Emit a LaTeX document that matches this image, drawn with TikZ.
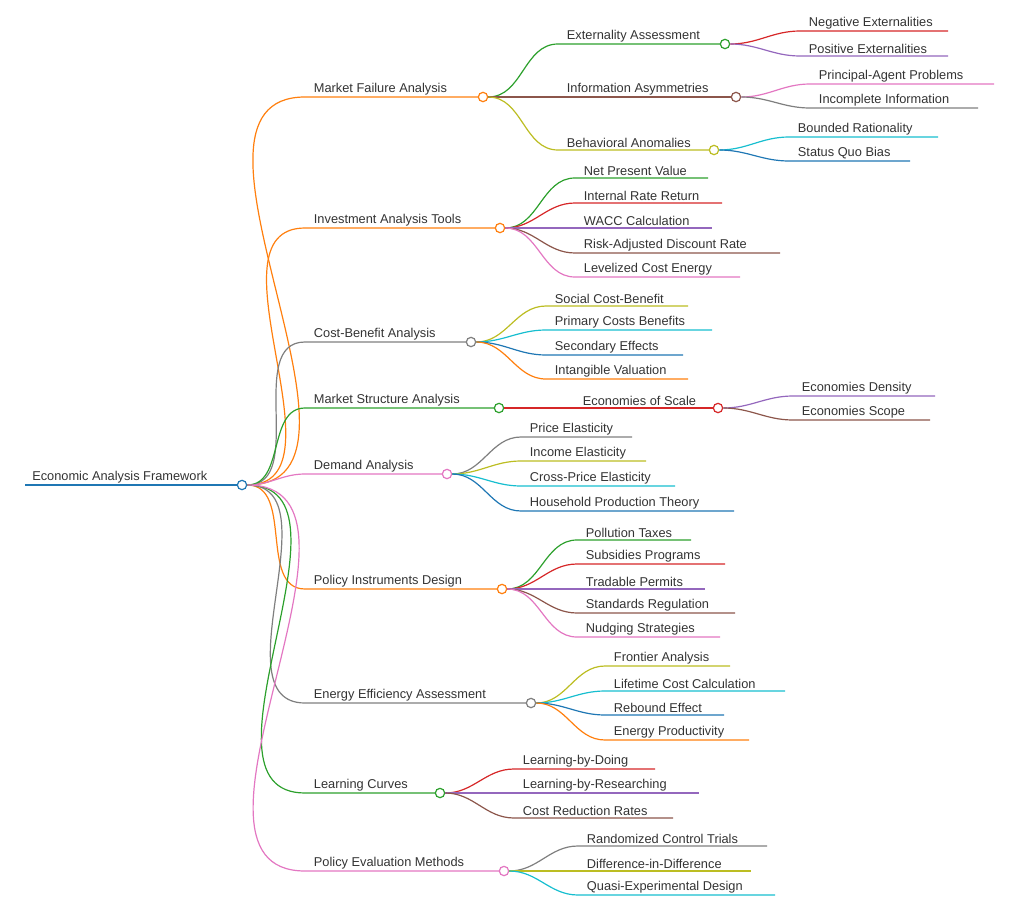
\documentclass[tikz,border=0pt]{standalone}
\usepackage{fontspec}
\setmainfont{Liberation Sans}
\usetikzlibrary{positioning}
\definecolor{corange}{HTML}{FF7F0E}
\definecolor{cgreen}{HTML}{2CA02C}
\definecolor{cred}{HTML}{D62728}
\definecolor{cpurple}{HTML}{9467BD}
\definecolor{cbrown}{HTML}{8C564B}
\definecolor{cpink}{HTML}{E377C2}
\definecolor{cgray}{HTML}{7F7F7F}
\definecolor{colive}{HTML}{BCBD22}
\definecolor{ccyan}{HTML}{17BECF}
\definecolor{cblue}{HTML}{1F77B4}
\tikzset{
    link/.style={line width=0.9pt},
    dot/.style={
    circle,draw=#1,fill=white,line width=0.9pt,inner sep=0pt,minimum size=7pt
    },
    lbl/.style={
    inner sep=1.5pt,font=\fontsize{9.6}{11}\selectfont,text=black!80
    },
}
% #1 name, #2 parent, #3 x start, #4 x end, #5 y, #6 colour, #7 text
\newcommand{\leaf}[7]{%
  \coordinate (#1s) at (#3,#5);
  \coordinate (#1e) at (#4,#5);
  \draw[link,#6] (#2.east) to[out=0,in=180] (#1s) -- (#1e);
  \node[lbl,anchor=south west] (#1t) at ([xshift=5]#1s) {#7};
}
\newcommand{\branch}[7]{%
  \leaf{#1}{#2}{#3}{#4}{#5}{#6}{#7}
  \node[dot=#6] (#1) at (#1e) {};
}
\begin{document}
\begin{tikzpicture}[x=0.75pt,y=-0.75pt]
  \useasboundingbox (0,0) rectangle (1010,906);
  %root
  \coordinate (rs) at (25,485);
  \draw[link,cblue] (rs) -- (242,485);
  \node[lbl,anchor=south west] (rt) at (30,485) {Economic Analysis Framework};
  \node[dot=cblue] (root) at (242,485) {};

  %market failure
  \branch{mf}{root}{305}{483}{97}{corange}{Market Failure Analysis}
  \branch{ea}{mf}{558}{725}{44}{cgreen}{Externality Assessment}
  \leaf{ne}{ea}{800}{948}{31}{cred}{Negative Externalities}
  \leaf{pe}{ea}{800}{948}{56}{cpurple}{Positive Externalities}
  \branch{ia}{mf}{558}{736}{97}{cbrown}{Information Asymmetries}
  \leaf{pa}{ia}{810}{994}{84}{cpink}{Principal-Agent Problems}
  \leaf{ii}{ia}{810}{978}{108}{cgray}{Incomplete Information}
  \branch{ba}{mf}{558}{714}{150}{colive}{Behavioral Anomalies}
  \leaf{br}{ba}{789}{938}{137}{ccyan}{Bounded Rationality}
  \leaf{sq}{ba}{789}{910}{161}{cblue}{Status Quo Bias}

  %investment
  \branch{iat}{root}{305}{500}{228}{corange}{Investment Analysis Tools}
  \leaf{npv}{iat}{575}{708}{178}{cgreen}{Net Present Value}
  \leaf{irr}{iat}{575}{722}{203}{cred}{Internal Rate Return}
  \leaf{wacc}{iat}{575}{712}{228}{cpurple}{WACC Calculation}
  \leaf{radr}{iat}{575}{780}{253}{cbrown}{Risk-Adjusted Discount Rate}
  \leaf{lce}{iat}{575}{740}{277}{cpink}{Levelized Cost Energy}

  %cost-benefit
  \branch{cba}{root}{305}{471}{342}{cgray}{Cost-Benefit Analysis}
  \leaf{scb}{cba}{546}{688}{306}{colive}{Social Cost-Benefit}
  \leaf{pcb}{cba}{546}{712}{330}{ccyan}{Primary Costs Benefits}
  \leaf{se}{cba}{546}{683}{355}{cblue}{Secondary Effects}
  \leaf{iv}{cba}{546}{688}{379}{corange}{Intangible Valuation}

  %market structure
  \branch{msa}{root}{305}{499}{408}{cgreen}{Market Structure Analysis}
  \branch{eos}{msa}{574}{718}{408}{cred}{Economies of Scale}
  \leaf{ed}{eos}{793}{935}{396}{cpurple}{Economies Density}
  \leaf{esc}{eos}{793}{930}{420}{cbrown}{Economies Scope}

  %demand
  \branch{da}{root}{305}{447}{474}{cpink}{Demand Analysis}
  \leaf{pel}{da}{521}{632}{437}{cgray}{Price Elasticity}
  \leaf{iel}{da}{521}{646}{461}{colive}{Income Elasticity}
  \leaf{cpe}{da}{521}{675}{486}{ccyan}{Cross-Price Elasticity}
  \leaf{hpt}{da}{521}{734}{511}{cblue}{Household Production Theory}

  %policy instruments
  \branch{pid}{root}{305}{502}{589}{corange}{Policy Instruments Design}
  \leaf{pt}{pid}{577}{691}{540}{cgreen}{Pollution Taxes}
  \leaf{sp}{pid}{577}{725}{564}{cred}{Subsidies Programs}
  \leaf{tp}{pid}{577}{705}{589}{cpurple}{Tradable Permits}
  \leaf{sr}{pid}{577}{735}{613}{cbrown}{Standards Regulation}
  \leaf{ns}{pid}{577}{720}{637}{cpink}{Nudging Strategies}

  %energy efficiency
  \branch{eea}{root}{305}{531}{703}{cgray}{Energy Efficiency Assessment}
  \leaf{fa}{eea}{605}{730}{666}{colive}{Frontier Analysis}
  \leaf{lcc}{eea}{605}{785}{691}{ccyan}{Lifetime Cost Calculation}
  \leaf{re}{eea}{605}{724}{715}{cblue}{Rebound Effect}
  \leaf{ep}{eea}{605}{749}{740}{corange}{Energy Productivity}

  %learning curves
  \branch{lc}{root}{305}{440}{793}{cgreen}{Learning Curves}
  \leaf{lbd}{lc}{514}{655}{769}{cred}{Learning-by-Doing}
  \leaf{lbr}{lc}{514}{699}{793}{cpurple}{Learning-by-Researching}
  \leaf{crr}{lc}{514}{673}{818}{cbrown}{Cost Reduction Rates}

  %policy evaluation
  \branch{pem}{root}{305}{504}{871}{cpink}{Policy Evaluation Methods}
  \leaf{rct}{pem}{578}{767}{846}{cgray}{Randomized Control Trials}
  \leaf{did}{pem}{578}{751}{871}{colive}{Difference-in-Difference}
  \leaf{qed}{pem}{578}{775}{895}{ccyan}{Quasi-Experimental Design}
\end{tikzpicture}
\end{document}
